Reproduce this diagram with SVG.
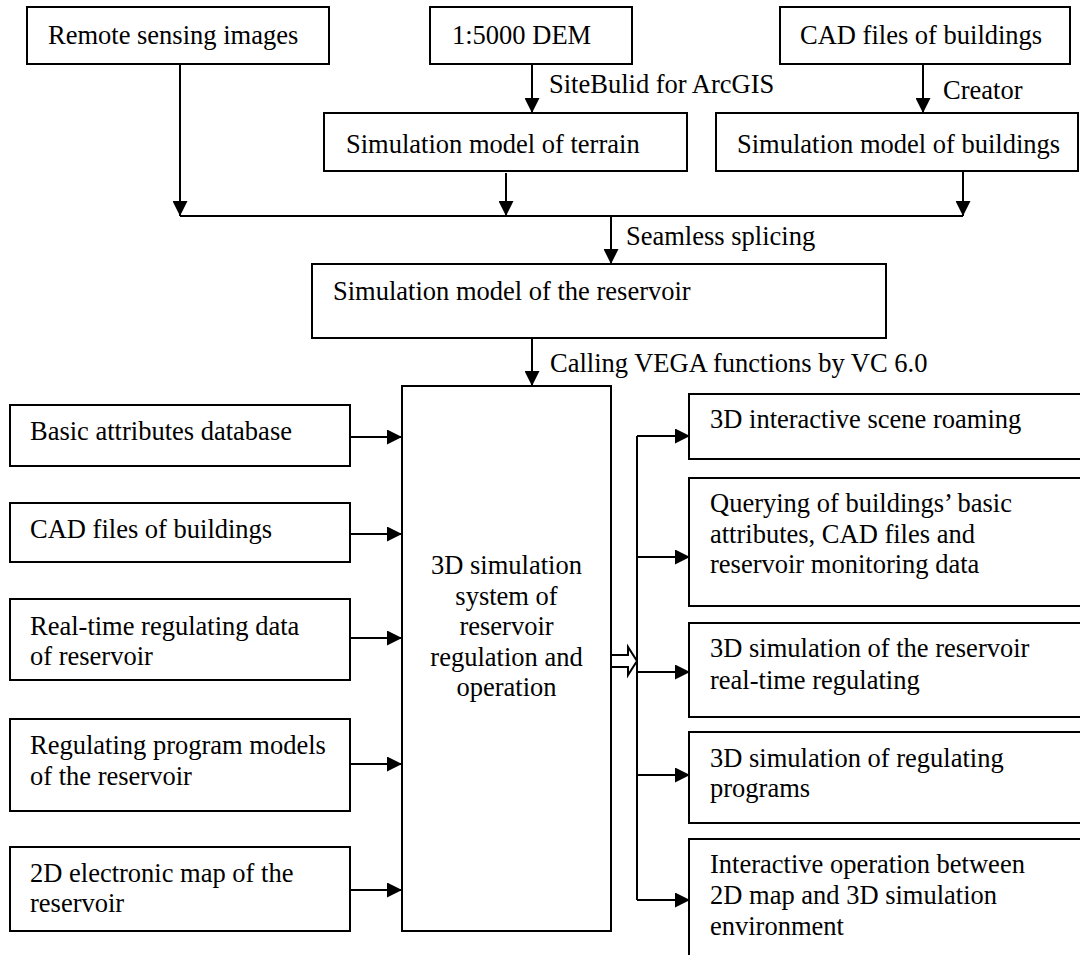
<svg xmlns="http://www.w3.org/2000/svg" width="1080" height="955" viewBox="0 0 1080 955">
<style>
.box{fill:#fff;stroke:#000;stroke-width:2}
.t{font-family:"Liberation Serif","Times New Roman",serif;font-size:26.5px;fill:#000}
.c{text-anchor:middle}
.ln{fill:none;stroke:#000;stroke-width:2}
</style>
<defs>
<marker id="ah" markerUnits="userSpaceOnUse" markerWidth="15" markerHeight="15" refX="15" refY="7.5" orient="auto">
<path d="M0,0 L15,7.5 L0,15 z" fill="#000"/>
</marker>
</defs>
<rect width="1080" height="955" fill="#fff"/>

<g id="connectors">
<path class="ln" d="M180,64 V216" marker-end="url(#ah)"/>
<path class="ln" d="M532,64 V113" marker-end="url(#ah)"/>
<path class="ln" d="M506,173 V216" marker-end="url(#ah)"/>
<path class="ln" d="M923,64 V113" marker-end="url(#ah)"/>
<path class="ln" d="M963,171 V216" marker-end="url(#ah)"/>
<path class="ln" d="M180,216 H963"/>
<path class="ln" d="M611,216 V264" marker-end="url(#ah)"/>
<path class="ln" d="M532,338 V386" marker-end="url(#ah)"/>
<path class="ln" d="M350,437 H402" marker-end="url(#ah)"/>
<path class="ln" d="M350,534 H402" marker-end="url(#ah)"/>
<path class="ln" d="M350,638 H402" marker-end="url(#ah)"/>
<path class="ln" d="M350,764 H402" marker-end="url(#ah)"/>
<path class="ln" d="M350,890 H402" marker-end="url(#ah)"/>
<path d="M611,655 H628 V647 L637,661 L628,675 V667 H611 z" fill="#fff" stroke="#000" stroke-width="2"/>
<path class="ln" d="M637,436 V900"/>
<path class="ln" d="M637,436 H690" marker-end="url(#ah)"/>
<path class="ln" d="M637,557 H690" marker-end="url(#ah)"/>
<path class="ln" d="M637,672 H690" marker-end="url(#ah)"/>
<path class="ln" d="M637,775 H690" marker-end="url(#ah)"/>
<path class="ln" d="M637,900 H690" marker-end="url(#ah)"/>
<text class="t" x="549" y="93">SiteBulid for ArcGIS</text>
<text class="t" x="943" y="99">Creator</text>
<text class="t" x="626" y="245">Seamless splicing</text>
<text class="t" x="550" y="372">Calling VEGA functions by VC 6.0</text>
</g>

<g id="remote"><rect class="box" x="27" y="7" width="302" height="57"/><text class="t" x="48" y="44">Remote sensing images</text></g>
<g id="dem"><rect class="box" x="430" y="7" width="202" height="57"/><text class="t" x="452" y="44">1:5000 DEM</text></g>
<g id="cad-top"><rect class="box" x="780" y="7" width="290" height="57"/><text class="t" x="800" y="44">CAD files of buildings</text></g>
<g id="terrain"><rect class="box" x="324" y="113" width="363" height="58"/><text class="t" x="346" y="153">Simulation model of terrain</text></g>
<g id="buildings"><rect class="box" x="716" y="113" width="362" height="58"/><text class="t" x="737" y="153">Simulation model of buildings</text></g>
<g id="reservoir-model"><rect class="box" x="312" y="264" width="574" height="74"/><text class="t" x="333" y="300">Simulation model of the reservoir</text></g>

<g id="system"><rect class="box" x="402" y="386" width="209" height="545"/>
<text class="t c" x="506.5" y="574">3D simulation</text>
<text class="t c" x="506.5" y="604.5">system of</text>
<text class="t c" x="506.5" y="635">reservoir</text>
<text class="t c" x="506.5" y="665.5">regulation and</text>
<text class="t c" x="506.5" y="696">operation</text></g>

<g id="basic-db"><rect class="box" x="10" y="405" width="340" height="61"/><text class="t" x="30" y="440">Basic attributes database</text></g>
<g id="cad-left"><rect class="box" x="10" y="503" width="340" height="59"/><text class="t" x="30" y="538">CAD files of buildings</text></g>
<g id="realtime"><rect class="box" x="10" y="599" width="340" height="81"/><text class="t" x="30" y="635">Real-time regulating data</text><text class="t" x="30" y="665">of reservoir</text></g>
<g id="programs"><rect class="box" x="10" y="719" width="340" height="92"/><text class="t" x="30" y="754">Regulating program models</text><text class="t" x="30" y="785">of the reservoir</text></g>
<g id="map2d"><rect class="box" x="10" y="847" width="340" height="84"/><text class="t" x="30" y="882">2D electronic map of the</text><text class="t" x="30" y="912">reservoir</text></g>

<g id="roaming"><rect class="box" x="689" y="394" width="400" height="65"/><text class="t" x="710" y="428">3D interactive scene roaming</text></g>
<g id="querying"><rect class="box" x="689" y="478" width="400" height="128"/><text class="t" x="710" y="512">Querying of buildings’ basic</text><text class="t" x="710" y="543">attributes, CAD files and</text><text class="t" x="710" y="573">reservoir monitoring data</text></g>
<g id="sim-realtime"><rect class="box" x="689" y="623" width="400" height="94"/><text class="t" x="710" y="657">3D simulation of the reservoir</text><text class="t" x="710" y="689">real-time regulating</text></g>
<g id="sim-programs"><rect class="box" x="689" y="732" width="400" height="91"/><text class="t" x="710" y="767">3D simulation of regulating</text><text class="t" x="710" y="797">programs</text></g>
<g id="interactive"><rect class="box" x="689" y="839" width="400" height="130"/><text class="t" x="710" y="873">Interactive operation between</text><text class="t" x="710" y="904">2D map and 3D simulation</text><text class="t" x="710" y="935">environment</text></g>
</svg>
